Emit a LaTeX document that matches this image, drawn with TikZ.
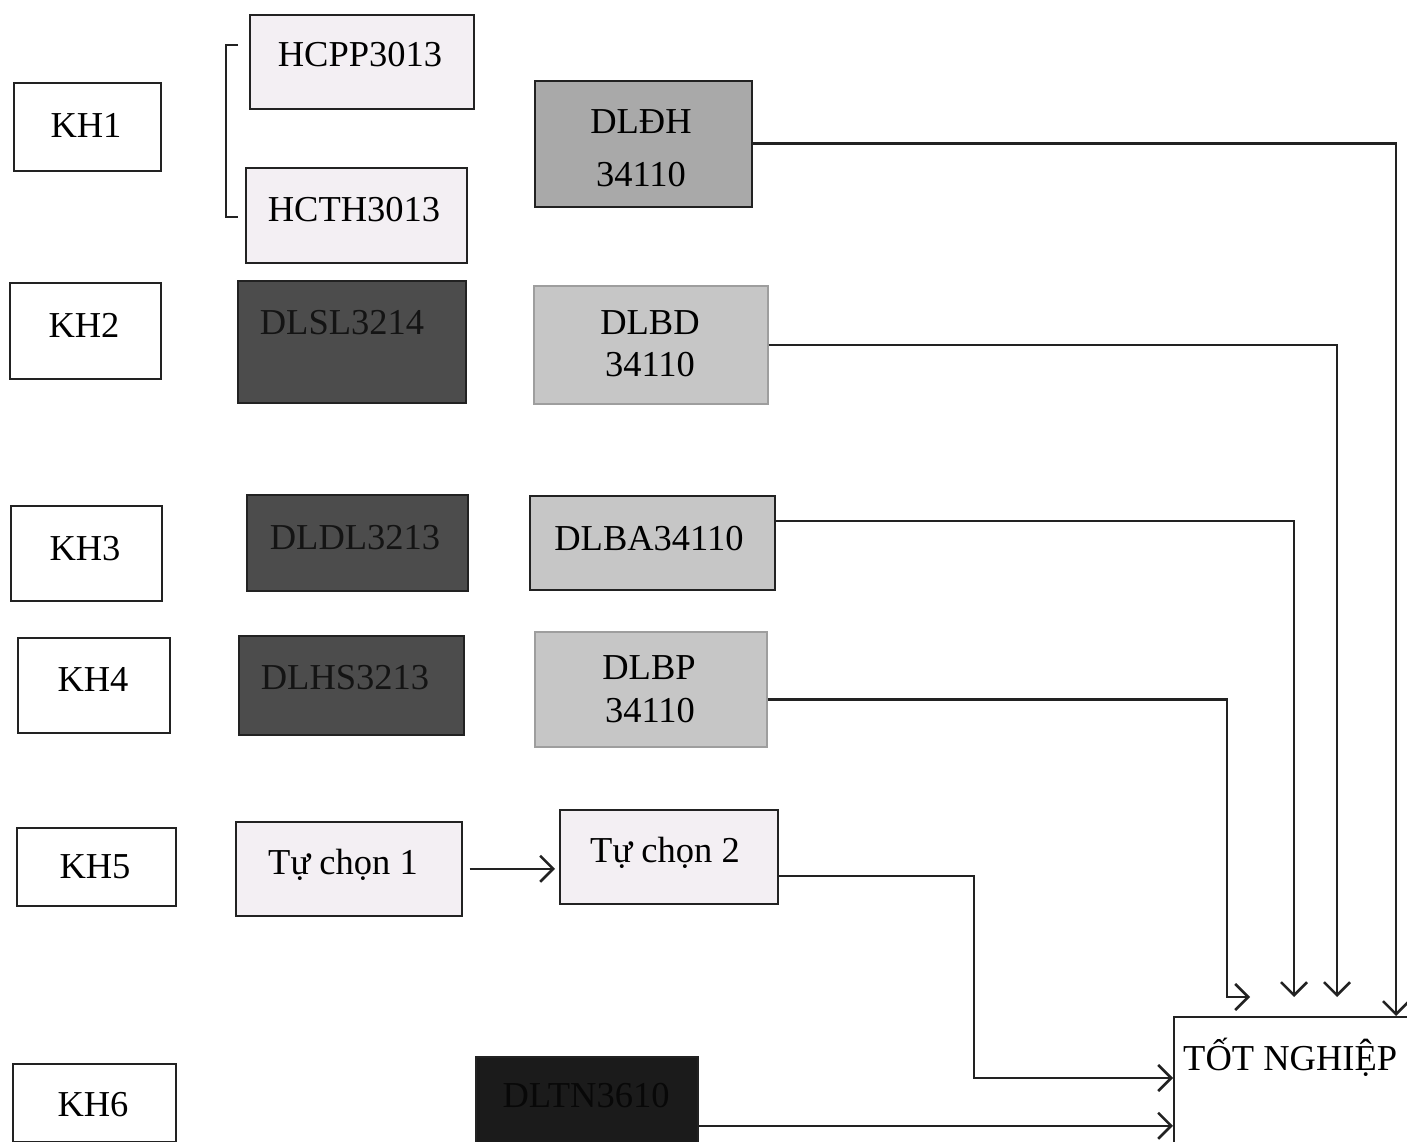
\documentclass[tikz,border=0pt]{standalone}
\usepackage{fontspec}
\setmainfont{Liberation Serif}
\usetikzlibrary{arrows.meta,calc}
\definecolor{lightbox}{HTML}{F3EFF3}
\definecolor{midbox}{HTML}{A9A9A9}
\definecolor{palebox}{HTML}{C6C6C6}
\definecolor{darkbox}{HTML}{4C4C4C}
\definecolor{blackbox}{HTML}{1B1B1B}
\definecolor{darktext}{HTML}{141414}
\definecolor{blacktext}{HTML}{080808}
\definecolor{linecol}{HTML}{222222}
\newcommand\mybox[6]{\node[box,#6,minimum width={(#4-#2)*1pt},minimum height={(#5-#3)*1pt}] (#1) at (#2,#3) {};}
\begin{document}
\begin{tikzpicture}[x=1pt,y=-1pt,
  box/.style={draw=linecol, line width=1.6pt, anchor=north west, inner sep=0pt},
  txt/.style={anchor=base, font=\fontsize{36.5}{40}\selectfont, inner sep=0pt},
  conn/.style={draw=linecol, line width=2.6pt, -{Straight Barb[length=13pt,width=26pt]}},
  plain/.style={draw=linecol, line width=2.4pt}
]
\clip (0,0) rectangle (1407,1142);
\fill[white] (0,0) rectangle (1407,1142);

% boxes
\mybox{kh1}{13}{82}{160}{170}{fill=white}
\mybox{kh2}{9}{282}{160}{378}{fill=white}
\mybox{kh3}{10}{505}{161}{600}{fill=white}
\mybox{kh4}{17}{637}{169}{732}{fill=white}
\mybox{kh5}{16}{827}{175}{905}{fill=white}
\mybox{kh6}{12}{1063}{175}{1141}{fill=white}
\mybox{hcpp}{249}{14}{473}{108}{fill=lightbox}
\mybox{hcth}{245}{167}{466}{262}{fill=lightbox}
\mybox{dldh}{534}{80}{751}{206}{fill=midbox}
\mybox{dlsl}{237}{280}{465}{402}{fill=darkbox}
\mybox{dlbd}{533}{285}{767}{403}{fill=palebox,draw=palebox!80!black}
\mybox{dldl}{246}{494}{467}{590}{fill=darkbox}
\mybox{dlba}{529}{495}{774}{589}{fill=palebox}
\mybox{dlhs}{238}{635}{463}{734}{fill=darkbox}
\mybox{dlbp}{534}{631}{766}{746}{fill=palebox,draw=palebox!80!black}
\mybox{tcone}{235}{821}{461}{915}{fill=lightbox}
\mybox{tctwo}{559}{809}{777}{903}{fill=lightbox}
\mybox{dltn}{475}{1056}{697}{1150}{fill=blackbox}
\mybox{tot}{1173}{1016}{1420}{1160}{fill=white}

% texts
\node[txt] (tkh1) at (86,138) {KH1};
\node[txt] (tkh2) at (84,337) {KH2};
\node[txt] (tkh3) at (85,560) {KH3};
\node[txt] (tkh4) at (93,691) {KH4};
\node[txt] (tkh5) at (95,878) {KH5};
\node[txt] (tkh6) at (93,1116) {KH6};
\node[txt] (thcpp) at (360,67) {HCPP3013};
\node[txt] (thcth) at (354,221) {HCTH3013};
\node[txt] (tdldh) at (641,134) {DLĐH};
\node[txt] (tdldhn) at (641,186) {34110};
\node[txt,text=darktext] (tdlsl) at (342,334) {DLSL3214};
\node[txt] (tdlbd) at (650,334) {DLBD};
\node[txt] (tdlbdn) at (650,376) {34110};
\node[txt,text=darktext] (tdldl) at (355,549) {DLDL3213};
\node[txt] (tdlba) at (649,550) {DLBA34110};
\node[txt,text=darktext] (tdlhs) at (345,689) {DLHS3213};
\node[txt] (tdlbp) at (649,679) {DLBP};
\node[txt] (tdlbpn) at (650,722) {34110};
\node[txt] (ttcone) at (343,874) {Tự chọn 1};
\node[txt] (ttctwo) at (665,862) {Tự chọn 2};
\node[txt,text=blacktext] (tdltn) at (586,1107) {DLTN3610};
\node[txt,anchor=base west] (ttot) at (1183,1070) {TỐT NGHIỆP};

% bracket
\draw[plain,line width=2pt] (238,45) -- (226,45) -- (226,217) -- (238,217);

% connectors
\coordinate (e1) at (1396,1016);
\draw[conn] (dldh.east) -| (e1);
\coordinate (e2) at (1337,997);
\draw[conn] (dlbd.east) -| (e2);
\coordinate (s3) at ([yshift=22pt]dlba.east);
\coordinate (e3) at (1294,997);
\draw[conn] (s3) -| (e3);
\coordinate (s4) at ([yshift=-10pt]dlbp.east);
\coordinate (c4) at (1227,997);
\coordinate (e4) at (1250,997);
\draw[conn] (s4) -| (c4) -- (e4);
\coordinate (s5) at ([yshift=-19pt]tctwo.east);
\coordinate (c5) at (974,1078);
\draw[conn] (s5) -| (c5) -- (tot.west |- c5);
\coordinate (s6) at ([yshift=-22pt]dltn.east);
\draw[conn] (s6) -- (s6 -| tot.west);
\draw[conn,shorten <=7pt,shorten >=4pt] (tcone.east) -- (tcone.east -| tctwo.west);
\end{tikzpicture}
\end{document}
